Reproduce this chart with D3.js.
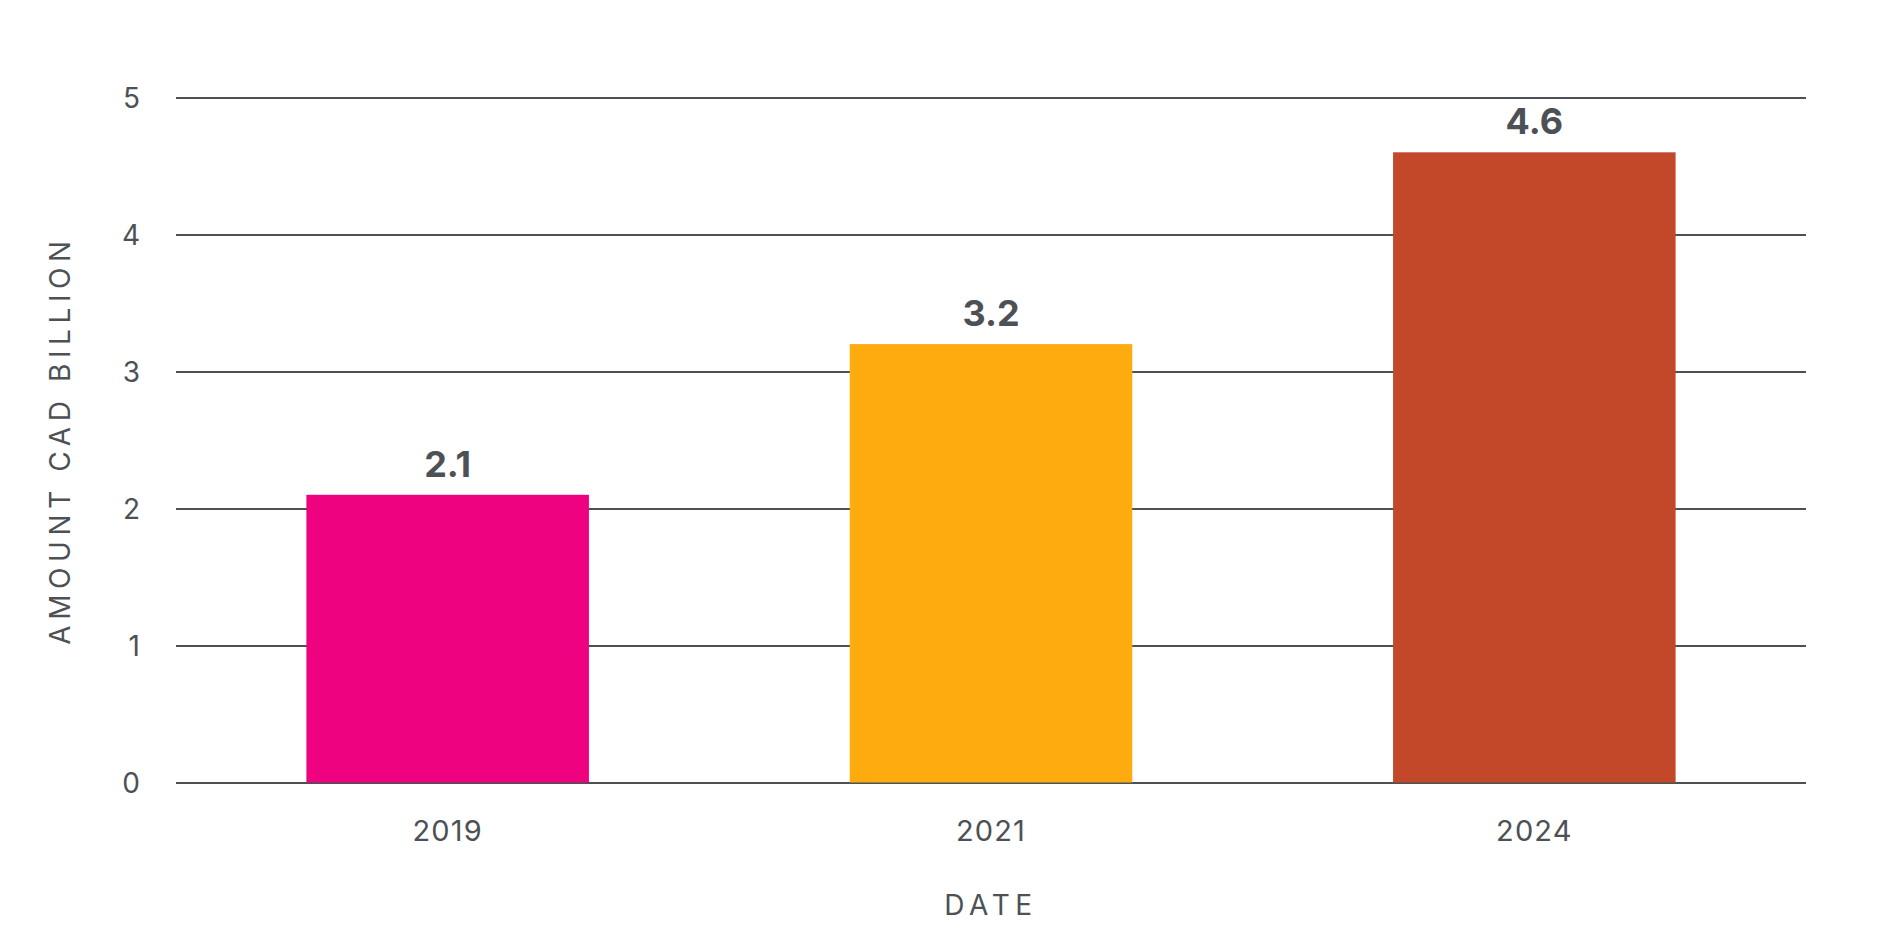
<!DOCTYPE html>
<html>
<head>
<meta charset="utf-8">
<script src="https://cdn.jsdelivr.net/npm/d3@7"></script>
<style>
  body { margin: 0; background: #fff; }
  text { font-family: Inter, "Noto Sans", sans-serif; fill: #4d5155; }
</style>
</head>
<body>
<div id="chart"></div>
<script>
// data
var years = ["2019", "2021", "2024"];
var amounts = [2.1, 3.2, 4.6];
var barColors = ["#ef027f", "#fdab0f", "#c3482a"];
var yTicks = [0, 1, 2, 3, 4, 5];

var total_width = 1882,
    total_height = 944;

var margin = {top: 97.5, right: 76, bottom: 161.5, left: 176},
    width = total_width - margin.left - margin.right,
    height = total_height - margin.top - margin.bottom;

var svg = d3.select("#chart").append("svg")
    .attr("width", total_width)
    .attr("height", total_height)
  .append("g")
    .attr("transform", "translate(" + margin.left + "," + margin.top + ")");

var x = d3.scaleBand()
    .domain(years)
    .range([0, width])
    .paddingInner(0.48)
    .paddingOuter(0.24);

var y = d3.scaleLinear()
    .domain([0, 5])
    .range([height, 0]);

// gridlines + y labels
var yAxis = svg.append("g")
    .attr("class", "y-axis")
    .call(d3.axisLeft(y).tickValues(yTicks).tickSize(-width).tickPadding(36).tickFormat(d3.format("d")));
yAxis.select(".domain").remove();
yAxis.selectAll(".tick line")
    .attr("stroke", "#4d5155")
    .attr("stroke-width", 1.8);
yAxis.selectAll(".tick text")
    .attr("font-size", 28)
    .attr("dy", "0.36em")
    .style("fill", "#4d5155");

// bars
svg.append("g")
  .selectAll("rect")
  .data(amounts)
  .enter()
  .append("rect")
    .attr("x", (d, i) => x(years[i]))
    .attr("y", d => y(d))
    .attr("width", x.bandwidth())
    .attr("height", d => height - y(d))
    .attr("fill", (d, i) => barColors[i]);

// value labels
svg.append("g")
  .selectAll("text")
  .data(amounts)
  .enter()
  .append("text")
    .attr("x", (d, i) => x(years[i]) + x.bandwidth() / 2)
    .attr("y", d => y(d) - 18)
    .attr("text-anchor", "middle")
    .attr("font-size", 36)
    .attr("font-weight", 700)
    .text(d => d.toFixed(1));

// x labels
var xAxis = svg.append("g")
    .attr("class", "x-axis")
    .attr("transform", "translate(0," + height + ")")
    .call(d3.axisBottom(x).tickSize(0).tickPadding(0));
xAxis.select(".domain").remove();
xAxis.selectAll(".tick text")
    .attr("y", 58)
    .attr("dy", 0)
    .attr("font-size", 29)
    .attr("letter-spacing", "0.04em")
    .style("fill", "#4d5155");

// axis titles
svg.append("text")
    .attr("x", width / 2)
    .attr("y", height + 132)
    .attr("text-anchor", "middle")
    .attr("font-size", 28)
    .attr("letter-spacing", "0.2em")
    .text("DATE");

svg.append("text")
    .attr("transform", "translate(" + (-106) + "," + (height / 2) + ") rotate(-90)")
    .attr("text-anchor", "middle")
    .attr("font-size", 28)
    .attr("letter-spacing", "0.2em")
    .text("AMOUNT CAD BILLION");
</script>
</body>
</html>
